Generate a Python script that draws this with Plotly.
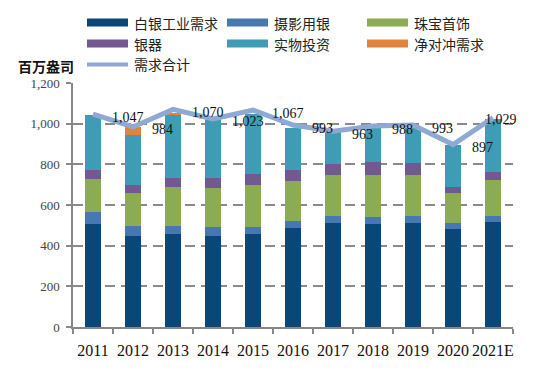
import plotly.graph_objects as go

years = ["2011", "2012", "2013", "2014", "2015", "2016", "2017", "2018", "2019", "2020", "2021E"]
industrial = [508, 449, 459, 449, 456, 489, 513, 508, 513, 484, 518]
photography = [59, 49, 39, 43, 37, 34, 35, 33, 31, 27, 28]
jewelry = [163, 163, 192, 193, 204, 195, 198, 207, 202, 148, 177]
silverware = [42, 39, 43, 48, 57, 52, 57, 63, 62, 31, 41]
investment = [271, 243, 308, 288, 292, 207, 161, 181, 172, 203, 257]
hedging = [0, 41, 13, 0, 0, 0, 0, 0, 0, 0, 0]
total = [1047, 984, 1070, 1023, 1067, 993, 963, 988, 993, 897, 1029]

bar_names = ["白银工业需求", "摄影用银", "珠宝首饰", "银器", "实物投资", "净对冲需求"]
line_name = "需求合计"
y_title = "百万盎司"
y_ticks = [0, 200, 400, 600, 800, 1000, 1200]

bar_series = [industrial, photography, jewelry, silverware, investment, hedging]
bar_colors = ["#0b4677", "#4878b0", "#8cab55", "#72598f", "#3f9cb5", "#e0843c"]
line_color = "#8fa9d5"

SERIF = "Liberation Serif, Times New Roman, serif"
CJK = "Noto Sans CJK SC, sans-serif"

fig = go.Figure()
for name, vals, col in zip(bar_names, bar_series, bar_colors):
    fig.add_trace(go.Bar(x=years, y=vals, name=name, marker=dict(color=col, line=dict(width=0)),
                         showlegend=False))
fig.add_trace(go.Scatter(x=years, y=total, name=line_name, mode="lines",
                         line=dict(color=line_color, width=5), showlegend=False))

# data labels (x given as category index)
annotations = []
for i, v in enumerate(total):
    txt = f"{v:,}"
    if i == len(total) - 1:
        annotations.append(dict(x=i, y=v, text=txt, showarrow=False, xanchor="center",
                                yanchor="middle", xshift=8, yshift=-2,
                                font=dict(family=SERIF, size=14, color="#111")))
    else:
        annotations.append(dict(x=i, y=v, text=txt, showarrow=False, xanchor="left",
                                yanchor="middle", xshift=17, yshift=-3,
                                font=dict(family=SERIF, size=14, color="#111")))

# page has an 8px body margin; plot area in page pixels: x 73..513, y 82.5..326.7
OFF = 8
PX0, PX1, PY0, PY1 = 73, 513, 82.5, 326.7
FW, FH = 550 - OFF, 373 - OFF
L, R, T, B = PX0 - OFF, 550 - PX1, PY0 - OFF, 373 - PY1


def px(x):
    return (x - PX0) / (PX1 - PX0)


def py(y):
    return (PY1 - y) / (PY1 - PY0)


shapes = []
legend_pos = [(87, 22), (227, 22), (367, 22), (87, 43), (227, 43), (367, 43)]
for (x0, yc), name, col in zip(legend_pos, bar_names, bar_colors):
    shapes.append(dict(type="rect", xref="paper", yref="paper", x0=px(x0), x1=px(x0 + 41),
                       y0=py(yc + 4), y1=py(yc - 4), fillcolor=col, line=dict(width=0)))
    annotations.append(dict(xref="paper", yref="paper", x=px(x0 + 45), y=py(yc), text=name,
                            showarrow=False, xanchor="left", yanchor="middle",
                            font=dict(family=CJK, size=14, color="#222")))
shapes.append(dict(type="line", xref="paper", yref="paper", x0=px(87), x1=px(128),
                   y0=py(64), y1=py(64), line=dict(color=line_color, width=4)))
annotations.append(dict(xref="paper", yref="paper", x=px(132), y=py(63), text=line_name,
                        showarrow=False, xanchor="left", yanchor="middle",
                        font=dict(family=CJK, size=14, color="#222")))
annotations.append(dict(xref="paper", yref="paper", x=px(16), y=py(65), text=f"<b>{y_title}</b>",
                        showarrow=False, xanchor="left", yanchor="middle",
                        font=dict(family=CJK, size=14, color="#111")))

fig.update_layout(
    barmode="stack",
    bargap=0.6,
    width=FW, height=FH,
    margin=dict(l=L, r=R, t=T, b=B, pad=0),
    paper_bgcolor="white", plot_bgcolor="white",
    shapes=shapes, annotations=annotations,
    showlegend=False,
)
fig.update_xaxes(type="category", range=[-0.5, len(years) - 0.5], showline=True,
                 linecolor="#888", linewidth=1.5,
                 ticks="outside", ticklen=5, tickcolor="#888", tickwidth=1.5,
                 tickson="boundaries", showgrid=False, tickangle=0, ticklabelstandoff=8,
                 tickfont=dict(family=SERIF, size=16, color="#111"))
fig.update_yaxes(range=[0, 1200], tickvals=y_ticks, tickformat=",", showline=True,
                 linecolor="#888", linewidth=1.5, ticks="outside", ticklen=5, tickcolor="#888",
                 tickwidth=1.5, showgrid=True, gridcolor="#8a8a8a", gridwidth=1.5,
                 griddash="10px,6px", zeroline=False, ticklabelstandoff=4,
                 tickfont=dict(family=SERIF, size=13, color="#444"))

fig.write_html("out.html")
